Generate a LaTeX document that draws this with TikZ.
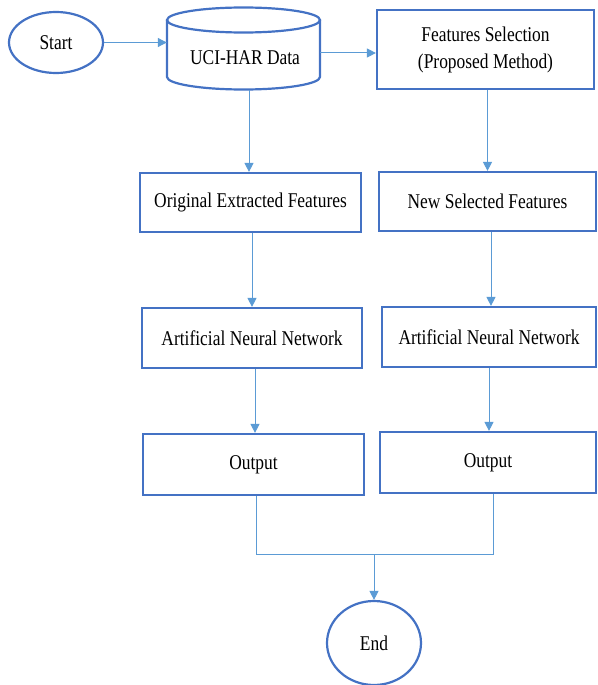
\documentclass[tikz,border=0pt]{standalone}
\usepackage{fontspec}
\setmainfont{Liberation Serif}
\usepackage{graphicx}
\usetikzlibrary{arrows.meta,shapes.geometric}
\definecolor{boxblue}{HTML}{4472C4}
\definecolor{arrblue}{HTML}{5B9BD5}
\newcommand{\sqtxt}[1]{\scalebox{0.83}[1]{#1}}
\tikzset{
  box/.style={draw=boxblue, line width=2.2pt, rectangle, inner sep=0pt,
    font=\fontsize{21}{27}\selectfont, align=center},
  oval/.style={draw=boxblue, line width=2.2pt, ellipse, inner sep=0pt,
    font=\fontsize{21}{27}\selectfont},
  plain/.style={inner sep=0pt, font=\fontsize{21}{27}\selectfont},
  conn/.style={draw=arrblue, line width=1pt},
  arr/.style={conn, -{Triangle[length=9pt,width=9pt]}}
}
\begin{document}
\begin{tikzpicture}[x=1pt,y=-1pt]
\useasboundingbox (0,0) rectangle (597,685);
% start
\node[oval, minimum width=94pt, minimum height=61pt] (start) at (56,42.5) {\sqtxt{Start}};
% cylinder
\node[inner sep=0pt, minimum width=153pt, minimum height=83pt] (cyl) at (243.5,48.5) {};
\draw[draw=boxblue, line width=2.2pt] (243.5,20) ellipse[x radius=76.5pt, y radius=12.5pt];
\draw[draw=boxblue, line width=2.2pt, line join=round]
  (167,20) -- (167,77) arc[start angle=180, end angle=360, x radius=76.5pt, y radius=12.5pt] -- (320,20);
\node[plain] (cyllabel) at (245,58) {\sqtxt{UCI-HAR Data}};
% boxes
\node[box, minimum width=217pt, minimum height=79pt] (fs) at (485.5,49.5)
  {\sqtxt{Features Selection}\\\sqtxt{(Proposed Method)}};
\node[box, minimum width=221pt, minimum height=59pt] (orig) at (250.5,202.5) {\sqtxt{Original Extracted Features}};
\node[box, minimum width=217pt, minimum height=59pt] (new) at (487.5,201.5) {\sqtxt{New Selected Features}};
\node[box, minimum width=220pt, minimum height=60pt] (annL) at (252,338) {\sqtxt{Artificial Neural Network}};
\node[box, minimum width=214pt, minimum height=60pt] (annR) at (489,337) {\sqtxt{Artificial Neural Network}};
\node[box, minimum width=221pt, minimum height=61pt] (outL) at (253.5,464.5) {\sqtxt{Output}};
\node[box, minimum width=216pt, minimum height=61pt] (outR) at (488,462.5) {\sqtxt{Output}};
\node[oval, minimum width=94pt, minimum height=84pt] (end) at (374,643) {\sqtxt{End}};
% connectors
\draw[arr] (start.east) -- (start.east -| cyl.west);
\draw[arr] ([yshift=-4.5pt]cyl.east) -- ([yshift=-4.5pt]cyl.east -| fs.west);
\draw[arr] ([xshift=5.5pt]cyl.south) -- ([xshift=5.5pt]cyl.south |- orig.north);
\draw[arr] (new.north |- fs.south) -- (new.north);
\draw[arr] (annL.north |- orig.south) -- (annL.north);
\draw[arr] ([xshift=2pt]annR.north |- new.south) -- ([xshift=2pt]annR.north);
\draw[arr] ([xshift=3pt]annL.south) -- ([xshift=3pt]annL.south |- outL.north);
\draw[arr] (annR.south) -- (annR.south |- outR.north);
\coordinate (join) at (374,554);
\draw[conn] ([xshift=3pt]outL.south) |- (join);
\draw[conn] ([xshift=5pt]outR.south) |- (join);
\draw[arr] (join) -- (end.north);
\end{tikzpicture}
\end{document}
